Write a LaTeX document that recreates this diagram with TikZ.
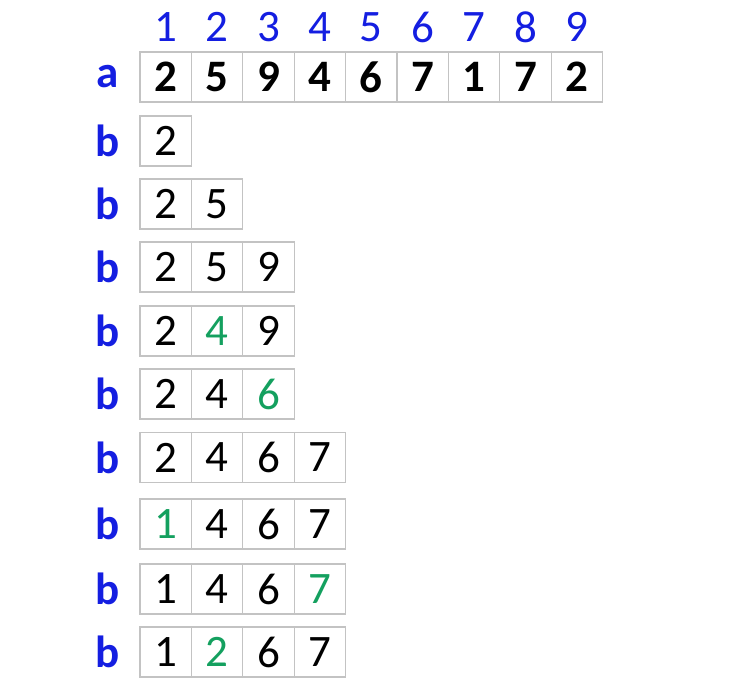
\documentclass[tikz,border=0pt]{standalone}
\usepackage{fontspec}
\setmainfont{Carlito}
\definecolor{idxblue}{RGB}{20,30,225}
\definecolor{hitgreen}{RGB}{20,160,95}
\definecolor{cellgray}{RGB}{195,195,195}
\tikzset{
	cell/.style={draw=cellgray, line width=1.1pt, minimum width=51.4pt, minimum height=50pt, inner sep=0pt, font=\fontsize{45}{45}\selectfont},
	rowlabel/.style={text=idxblue, inner sep=0pt, font=\fontsize{45}{45}\selectfont\bfseries},
	colindex/.style={text=idxblue, inner sep=0pt, font=\fontsize{45}{45}\selectfont}
}

\begin{document}
\begin{tikzpicture}[x=1pt, y=-1pt]
		%%%%% START %%%%%
		\useasboundingbox (0, 0) rectangle (730, 688);
		
		% column numbers
		\foreach \k in {1,...,9}
			\node[colindex] (h\k) at ({114.3+51.4*\k}, 27) {\k};
		
		% array a
		\node[rowlabel] (la) at (108, 77) {a};
		\foreach \v [count=\k] in {2,5,9,4,6,7,1,7,2}
			\node[cell, font=\fontsize{45}{45}\selectfont\bfseries] (a\k) at ({114.3+51.4*\k}, 77) {\v};
		
		% array b, step by step
		\foreach \r/\y/\vals in {
				1/141/{2/black},
				2/204/{2/black,5/black},
				3/267/{2/black,5/black,9/black},
				4/331/{2/black,4/hitgreen,9/black},
				5/394/{2/black,4/black,6/hitgreen},
				6/457.5/{2/black,4/black,6/black,7/black},
				7/524/{1/hitgreen,4/black,6/black,7/black},
				8/589/{1/black,4/black,6/black,7/hitgreen},
				9/652/{1/black,2/hitgreen,6/black,7/black}}{
			\node[rowlabel] (lb\r) at (108, \y) {b};
			\foreach \v/\c [count=\k] in \vals
				\node[cell, text=\c] (b\r-\k) at ({114.3+51.4*\k}, \y) {\v};
		}
		
		%%%%% END %%%%%
	\end{tikzpicture}
\end{document}
